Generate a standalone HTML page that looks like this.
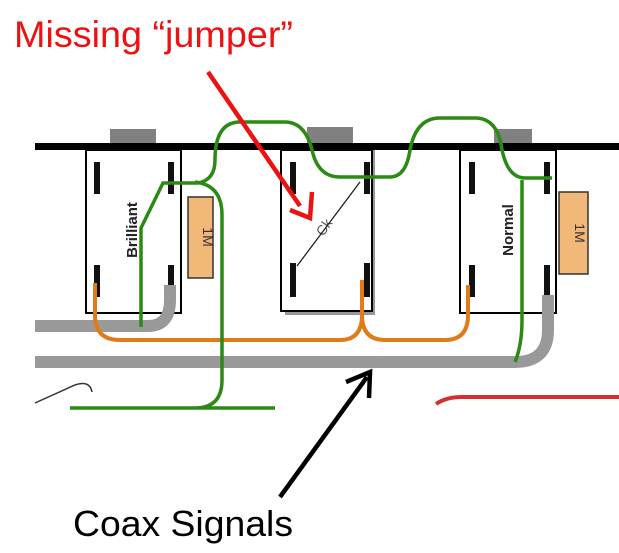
<!DOCTYPE html>
<html><head><style>
body{margin:0;background:#fff;}
svg{display:block;font-family:"Liberation Sans",Arial,sans-serif;}
</style></head><body>
<svg width="619" height="553" viewBox="0 0 619 553">
<text x="14" y="47" font-size="37" fill="#ee1111" textLength="279" lengthAdjust="spacingAndGlyphs">Missing “jumper”</text>
<text x="73" y="536" font-size="36" fill="#000" textLength="220" lengthAdjust="spacingAndGlyphs">Coax Signals</text>
<rect x="110" y="129" width="46" height="16" fill="#808080"/>
<rect x="307" y="127" width="46" height="18" fill="#808080"/>
<rect x="494" y="129" width="38" height="16" fill="#808080"/>
<rect x="35" y="143" width="584" height="7" fill="#000"/>
<rect x="86" y="150" width="95" height="163" fill="#fff" stroke="#000" stroke-width="2"/>
<rect x="285" y="150" width="90" height="165" fill="#999"/>
<rect x="281" y="150" width="91" height="161" fill="#fff" stroke="#000" stroke-width="2"/>
<rect x="460" y="150" width="96" height="163" fill="#fff" stroke="#000" stroke-width="2"/>
<g fill="#111">
<rect x="94" y="162" width="6" height="32"/><rect x="168" y="162" width="6" height="32"/>
<rect x="94" y="265" width="6" height="32"/><rect x="168" y="265" width="6" height="32"/>
<rect x="290" y="162" width="6" height="32"/><rect x="364" y="162" width="6" height="32"/>
<rect x="290" y="263" width="6" height="34"/><rect x="364" y="263" width="6" height="34"/>
<rect x="469" y="162" width="6" height="32"/><rect x="544" y="162" width="6" height="32"/>
<rect x="469" y="265" width="6" height="32"/><rect x="544" y="265" width="6" height="32"/>
</g>
<rect x="188" y="197" width="25" height="81" fill="#f2b877" stroke="#333" stroke-width="1.5"/>
<rect x="559" y="192" width="29" height="82" fill="#f2b877" stroke="#333" stroke-width="1.5"/>
<text transform="translate(203,237) rotate(90)" font-size="14" text-anchor="middle" fill="#333">1M</text>
<text transform="translate(575,233) rotate(90)" font-size="14" text-anchor="middle" fill="#333">1M</text>
<text transform="translate(137,230) rotate(-90)" font-size="15" font-weight="bold" text-anchor="middle" fill="#222">Brilliant</text>
<text transform="translate(513,230) rotate(-90)" font-size="15" font-weight="bold" text-anchor="middle" fill="#222">Normal</text>
<text transform="translate(328,230) rotate(-55)" font-size="14" text-anchor="middle" fill="#555">Ck</text>
<line x1="297" y1="266" x2="360" y2="182" stroke="#222" stroke-width="1.3"/>
<path d="M35 326 H148 Q170 326 170 300 V285" stroke="#999" stroke-width="12" fill="none"/>
<path d="M35 362 H515 Q548 362 548 330 V295" stroke="#999" stroke-width="12" fill="none"/>
<path d="M95 283 V315 Q95 340 120 340 H340 Q362 340 362 315 V280 M362 315 Q362 340 385 340 H445 Q468 340 468 315 V285" stroke="#e07b1a" stroke-width="4" fill="none"/>
<g stroke="#2a8a14" stroke-width="3.5" fill="none">
<path d="M141 327 V228 L163 183 H198 Q215 180 215 160 Q215 122 240 122 H285 Q305 122 312 150 Q318 177 340 177 H390 Q406 177 410 150 Q416 118 440 118 H475 Q498 118 502 150 Q508 178 525 178 H552"/>
<path d="M195 182 Q222 185 222 215 V380 Q222 408 195 408 H70 M195 408 H275"/>
<path d="M522 180 V320 Q522 345 515 362"/>
</g>
<path d="M35 403 L75 385 Q90 380 92 392" stroke="#333" stroke-width="1.5" fill="none"/>
<path d="M436 404 Q446 397 462 397 H619" stroke="#d43030" stroke-width="4" fill="none"/>
<line x1="208" y1="72" x2="300" y2="206" stroke="#ee1111" stroke-width="4.5"/>
<path d="M290 210 L310 218 L312 192" stroke="#ee1111" stroke-width="4.5" fill="none"/>
<line x1="280" y1="497" x2="367" y2="377" stroke="#000" stroke-width="4.5"/>
<path d="M346 382 L370 372 L369 398" stroke="#000" stroke-width="4.5" fill="none"/>
</svg>
</body></html>
